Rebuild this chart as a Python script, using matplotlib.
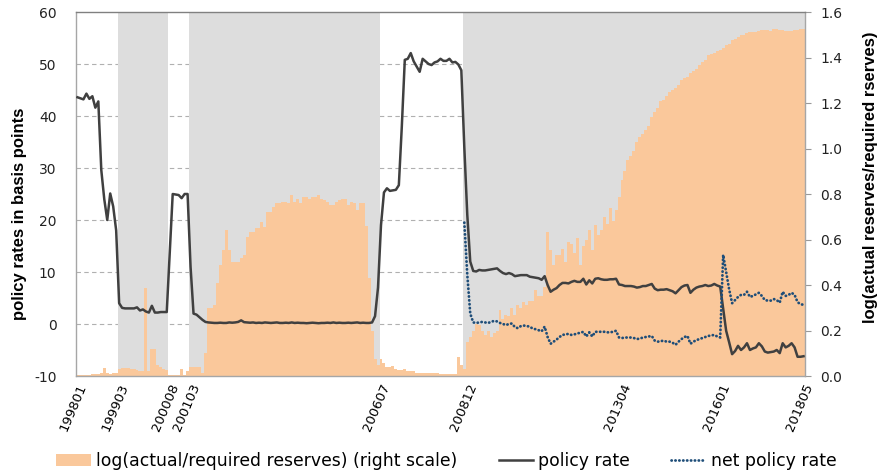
import numpy as np
import pandas as pd
import matplotlib
matplotlib.use("Agg")
import matplotlib.pyplot as plt
from matplotlib.patches import Patch
from matplotlib.lines import Line2D

# ---------------- data ----------------
months = pd.period_range("1998-01", "2018-05", freq="M")

policy_rate = [
    43.6, 43.4, 43.2, 44.3, 43.3, 43.8, 41.6, 42.8, 29.6, 24.0,
    20.0, 25.1, 22.6, 18.0, 4.0, 3.1, 3.0, 3.0, 3.0, 3.0,
    3.2, 2.6, 2.8, 2.4, 2.2, 3.5, 2.2, 2.2, 2.3, 2.3,
    2.3, 13.5, 25.0, 24.9, 24.8, 24.2, 25.0, 25.0, 11.0, 2.0,
    1.8, 1.3, 0.8, 0.4, 0.3, 0.25, 0.2, 0.2, 0.25, 0.2,
    0.2, 0.3, 0.25, 0.3, 0.4, 0.7, 0.35, 0.3, 0.25, 0.3,
    0.2, 0.25, 0.2, 0.3, 0.25, 0.2, 0.25, 0.3, 0.2, 0.2,
    0.25, 0.2, 0.3, 0.2, 0.25, 0.2, 0.2, 0.15, 0.2, 0.25,
    0.2, 0.15, 0.2, 0.2, 0.25, 0.2, 0.3, 0.2, 0.25, 0.2,
    0.2, 0.25, 0.2, 0.25, 0.3, 0.2, 0.25, 0.2, 0.2, 0.3,
    1.5, 7.0, 19.0, 25.3, 26.1, 25.6, 25.7, 25.8, 26.7, 38.0,
    50.8, 51.0, 52.1, 50.5, 49.5, 48.5, 51.0, 50.5, 50.0, 49.8,
    50.3, 50.5, 51.0, 50.6, 50.6, 51.0, 50.3, 50.4, 49.9, 48.8,
    34.0, 21.0, 12.0, 10.2, 10.1, 10.4, 10.3, 10.3, 10.4, 10.5,
    10.6, 10.7, 10.2, 9.8, 9.6, 9.8, 9.6, 9.2, 9.3, 9.4,
    9.4, 9.4, 9.1, 9.0, 8.9, 8.8, 8.5, 9.2, 7.5, 6.2,
    6.6, 6.9, 7.5, 7.9, 7.9, 7.8, 8.1, 8.3, 8.1, 8.1,
    8.7, 7.6, 8.4, 7.8, 8.7, 8.8, 8.6, 8.5, 8.5, 8.6,
    8.6, 8.7, 7.6, 7.5, 7.3, 7.3, 7.3, 7.2, 7.0, 7.1,
    7.3, 7.3, 7.5, 7.7, 6.8, 6.5, 6.6, 6.6, 6.7, 6.5,
    6.3, 5.9, 6.5, 7.1, 7.4, 7.5, 6.0, 6.6, 7.0, 7.2,
    7.3, 7.5, 7.3, 7.4, 7.7, 7.4, 7.2, 3.0, -1.3, -3.5,
    -5.8, -5.2, -4.2, -5.0, -4.5, -3.7, -5.0, -4.7, -4.5, -3.7,
    -4.3, -5.3, -5.5, -5.4, -5.3, -5.0, -5.6, -3.7, -4.5, -4.2,
    -3.7, -4.5, -6.3, -6.3, -6.2,
]

net_start = "2008-11"
net_policy_rate = [
    19.5, 9.5, 2.0, 0.3,
    0.2, 0.3, 0.4, 0.3, 0.2, 0.4, 0.6, 0.5, 0.2, 0.0,
    -0.2, 0.0, 0.1, -0.6, -0.8, -0.4, -0.3, -0.4, -0.5, -0.9,
    -1.0, -1.2, -1.4, -0.5, -2.5, -3.8, -3.4, -3.0, -2.5, -2.1,
    -2.0, -1.9, -2.1, -2.0, -1.8, -1.7, -1.5, -2.4, -1.6, -2.4,
    -1.5, -1.5, -1.5, -1.5, -1.6, -1.6, -1.5, -1.3, -2.6, -2.7,
    -2.6, -2.6, -2.6, -2.7, -2.9, -2.8, -2.6, -2.5, -2.4, -2.3,
    -3.2, -3.4, -3.3, -3.2, -3.4, -3.4, -3.6, -4.0, -3.4, -2.9,
    -2.5, -2.3, -3.8, -3.4, -3.1, -2.9, -2.7, -2.5, -2.3, -2.2,
    -2.1, -2.4, -2.6, 13.3, 10.0, 6.7, 4.0, 4.6, 5.2, 5.6,
    5.6, 6.2, 5.2, 5.4, 5.7, 6.0, 5.4, 4.6, 4.5, 4.5,
    4.8, 4.6, 4.1, 6.2, 5.4, 5.6, 6.0, 5.6, 4.2, 3.8, 3.7,
]

log_reserves = [
    0.003, 0.003, 0.004, 0.005, 0.006, 0.008, 0.010, 0.010, 0.012, 0.035,
    0.012, 0.010, 0.012, 0.015, 0.030, 0.035, 0.035, 0.035, 0.030, 0.030,
    0.025, 0.020, 0.020, 0.385, 0.020, 0.117, 0.117, 0.050, 0.040, 0.030,
    0.025, 0.005, 0.004, 0.003, 0.004, 0.030, 0.005, 0.020, 0.040, 0.040,
    0.040, 0.040, 0.015, 0.100, 0.300, 0.300, 0.310, 0.410, 0.490, 0.554,
    0.640, 0.554, 0.500, 0.500, 0.500, 0.520, 0.530, 0.610, 0.635, 0.635,
    0.650, 0.650, 0.678, 0.655, 0.720, 0.720, 0.744, 0.760, 0.760, 0.766,
    0.766, 0.759, 0.796, 0.766, 0.780, 0.759, 0.789, 0.789, 0.780, 0.789,
    0.789, 0.796, 0.780, 0.774, 0.766, 0.752, 0.752, 0.766, 0.774, 0.780,
    0.780, 0.752, 0.766, 0.759, 0.730, 0.759, 0.759, 0.660, 0.430, 0.200,
    0.075, 0.050, 0.073, 0.056, 0.040, 0.040, 0.045, 0.030, 0.025, 0.025,
    0.030, 0.020, 0.020, 0.020, 0.015, 0.015, 0.015, 0.015, 0.012, 0.012,
    0.012, 0.012, 0.010, 0.010, 0.010, 0.010, 0.010, 0.010, 0.085, 0.050,
    0.030, 0.151, 0.170, 0.200, 0.230, 0.225, 0.200, 0.180, 0.200, 0.170,
    0.190, 0.200, 0.290, 0.250, 0.270, 0.265, 0.300, 0.270, 0.310, 0.300,
    0.327, 0.310, 0.330, 0.330, 0.378, 0.350, 0.350, 0.390, 0.634, 0.554,
    0.490, 0.530, 0.530, 0.560, 0.500, 0.590, 0.580, 0.540, 0.605, 0.490,
    0.570, 0.600, 0.642, 0.554, 0.664, 0.620, 0.642, 0.700, 0.670, 0.737,
    0.680, 0.730, 0.788, 0.860, 0.900, 0.950, 0.965, 0.990, 1.030, 1.050,
    1.065, 1.080, 1.100, 1.140, 1.160, 1.180, 1.210, 1.215, 1.230, 1.250,
    1.257, 1.265, 1.280, 1.300, 1.310, 1.315, 1.330, 1.340, 1.350, 1.367,
    1.380, 1.390, 1.410, 1.415, 1.420, 1.430, 1.433, 1.440, 1.455, 1.460,
    1.477, 1.480, 1.490, 1.500, 1.500, 1.506, 1.510, 1.512, 1.512, 1.515,
    1.520, 1.520, 1.520, 1.515, 1.524, 1.524, 1.520, 1.520, 1.515, 1.515,
    1.518, 1.520, 1.520, 1.525, 1.525,
]

# zero-interest-rate periods (grey shading)
shade_start = ["1999-03", "2001-03", "2008-11"]
shade_end = ["2000-07", "2006-06", "2018-05"]

tick_months = ["199801", "199903", "200008", "200103", "200607",
               "200812", "201304", "201601", "201805"]

left_ticks = [-10, 0, 10, 20, 30, 40, 50, 60]
right_ticks = [0.0, 0.2, 0.4, 0.6, 0.8, 1.0, 1.2, 1.4, 1.6]

# ---------------- plotting ----------------
ORANGE = "#FAC89B"
GREY = "#DDDDDD"
LINE = "#404040"
NAVY = "#1F4E79"

W, H = 884, 471
fig = plt.figure(figsize=(W / 100, H / 100), dpi=100)
ax = fig.add_axes([76 / W, 1 - 376 / H, 729 / W, 364 / H])
ax2 = ax.twinx()
ax.set_zorder(3)
ax.patch.set_visible(False)
ax2.set_zorder(2)

n = len(months)
x = np.arange(n)
pos = {str(p): i for i, p in enumerate(months)}

lmin, lmax = left_ticks[0], left_ticks[-1]
rmin, rmax = right_ticks[0], right_ticks[-1]
ax.set_ylim(lmin, lmax)
ax2.set_ylim(rmin, rmax)
ax.set_xlim(-0.5, n - 0.5)

# dashed gridlines (behind shading) from left-axis ticks
for t in left_ticks[1:-1]:
    yr = rmin + (t - lmin) / (lmax - lmin) * (rmax - rmin)
    ax2.axhline(yr, color="#B0B0B0", lw=0.8, ls=(0, (4, 3)), zorder=0.5)

for s, e in zip(shade_start, shade_end):
    ax2.axvspan(pos[s] - 0.5, pos[e] + 0.5, color=GREY, lw=0, zorder=1)

edges = np.arange(n + 1) - 0.5
ax2.stairs(log_reserves, edges, fill=True, color=ORANGE, lw=0, zorder=2)

ax.plot(x, policy_rate, color=LINE, lw=1.8, solid_joinstyle="round", zorder=4)
xn = np.arange(pos[net_start], pos[net_start] + len(net_policy_rate))
ax.plot(xn, net_policy_rate, color=NAVY, lw=2.0, ls=(0, (0.1, 1.3)),
        dash_capstyle="round", zorder=5)

# axes styling
ax.set_yticks(left_ticks)
ax.set_yticklabels([str(t) for t in left_ticks])
ax.tick_params(axis="y", length=0, pad=14, labelsize=10, colors="#222222")
ax2.set_yticks(right_ticks)
ax2.set_yticklabels([f"{t:.1f}" for t in right_ticks])
ax2.tick_params(axis="y", length=4, width=0.8, color="#999999", pad=7,
                labelsize=10, labelcolor="#222222")

tick_idx = [pos[f"{t[:4]}-{t[4:]}"] for t in tick_months]
ax.set_xticks(tick_idx)
ax.set_xticklabels(tick_months, rotation=67, ha="right",
                   rotation_mode="anchor", fontsize=9.5)
ax.tick_params(axis="x", length=0, pad=4)

for sp in ax.spines.values():
    sp.set_color("#A6A6A6")
    sp.set_linewidth(1.0)
ax.spines["top"].set_color("#808080")
for sp in ax2.spines.values():
    sp.set_visible(False)

fig.text(20 / W, 1 - 214 / H, "policy rates in basis points", rotation=90,
         ha="center", va="center", fontsize=12, fontweight="bold",
         family="Liberation Sans")
fig.text(870 / W, 1 - 177 / H, "log(actual reserves/required rserves)",
         rotation=90, ha="center", va="center", fontsize=12,
         fontweight="bold", family="Liberation Sans")

handles = [
    Patch(facecolor=ORANGE, edgecolor="none"),
    Line2D([], [], color=LINE, lw=1.8),
    Line2D([], [], color=NAVY, lw=2.0, ls=(0, (0.1, 1.3)),
           dash_capstyle="round"),
]
labels = ["log(actual/required reserves) (right scale)", "policy rate",
          "net policy rate"]
fig.legend(handles, labels, loc="center", bbox_to_anchor=(0.505, 0.022),
           ncol=3, frameon=False, fontsize=12.4, handlelength=2.0,
           handletextpad=0.3, columnspacing=2.4)

fig.savefig("out.png", dpi=100)
